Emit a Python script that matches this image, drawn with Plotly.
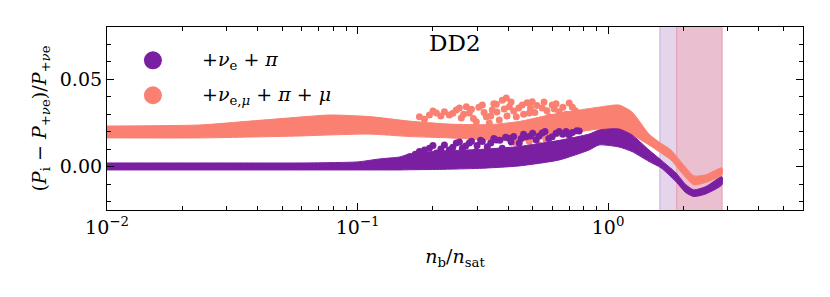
import plotly.graph_objects as go

# ---------------- data ----------------
# dense band of the "+nu_e + pi" case (purple)
nue_x     = [0.01, 0.03, 0.06, 0.1, 0.1224, 0.147, 0.1611, 0.2122, 0.3062, 0.442, 0.6379, 0.84, 0.9207, 1.106, 1.246, 1.457, 1.626, 1.866, 2.046, 2.2, 2.457, 2.846]
nue_lower = [-0.0019, -0.0019, -0.0019, -0.0019, -0.0019, -0.0019, -0.0018, -0.0016, -0.0010, 0.0004, 0.0038, 0.0095, 0.0124, 0.0112, 0.0086, 0.0029, -0.0007, -0.0086, -0.0150, -0.0171, -0.0156, -0.0104]
nue_upper = [0.0021, 0.0021, 0.0021, 0.0027, 0.0044, 0.0055, 0.0072, 0.0089, 0.0098, 0.0115, 0.0150, 0.0186, 0.0209, 0.0215, 0.0181, 0.0095, 0.0038, -0.0036, -0.0104, -0.0133, -0.0114, -0.0058]
# scattered points above the purple band
nue_dots_x = [0.1611, 0.1766, 0.1936, 0.2064, 0.2222, 0.2325, 0.2479, 0.262, 0.2794, 0.2978, 0.3148, 0.3295, 0.3579, 0.3782, 0.4034, 0.442, 0.4713, 0.5165, 0.5458, 0.5982, 0.6379, 0.6994, 0.7667,
              0.17, 0.185, 0.2, 0.215, 0.24, 0.255, 0.27, 0.285, 0.3, 0.31, 0.34, 0.35, 0.37, 0.39, 0.41, 0.42, 0.45, 0.46, 0.49, 0.5, 0.53, 0.56, 0.58, 0.62, 0.66, 0.68, 0.72, 0.75]
nue_dots_y = [0.0057, 0.0086, 0.0105, 0.0078, 0.0124, 0.0095, 0.0135, 0.0105, 0.0135, 0.0086, 0.0143, 0.0114, 0.0152, 0.0105, 0.0162, 0.0135, 0.0171, 0.0152, 0.0192, 0.0171, 0.0200, 0.0181, 0.0204,
              0.0070, 0.0095, 0.0120, 0.0100, 0.0110, 0.0140, 0.0118, 0.0145, 0.0120, 0.0150, 0.0135, 0.0160, 0.0150, 0.0168, 0.0140, 0.0172, 0.0160, 0.0185, 0.0175, 0.0190, 0.0175, 0.0200, 0.0160, 0.0190, 0.0185, 0.0200, 0.0195, 0.0205]

# dense band of the "+nu_e,mu + pi + mu" case (salmon)
all_x     = [0.01, 0.02347, 0.03713, 0.05873, 0.07733, 0.1116, 0.1611, 0.2325, 0.3356, 0.442, 0.582, 0.7667, 0.9207, 1.106, 1.246, 1.457, 1.596, 1.782, 1.971, 2.2, 2.457, 2.846]
all_lower = [0.0164, 0.0164, 0.0169, 0.0175, 0.0181, 0.0186, 0.0172, 0.0164, 0.0152, 0.0146, 0.0164, 0.0198, 0.0215, 0.0209, 0.0181, 0.0124, 0.0086, 0.0038, -0.0036, -0.0104, -0.0090, -0.0047]
all_upper = [0.0232, 0.0238, 0.0260, 0.0283, 0.0295, 0.0286, 0.0260, 0.0243, 0.0240, 0.0258, 0.0295, 0.0323, 0.0340, 0.0352, 0.0312, 0.0186, 0.0141, 0.0095, 0.0021, -0.0053, -0.0047, -0.0007]
# scattered points of the salmon case
all_dots_x = [0.1766, 0.1936, 0.2064, 0.2222, 0.2325, 0.2479, 0.2596, 0.2718, 0.2794, 0.2978, 0.3148, 0.3265, 0.3449, 0.3782, 0.4034, 0.4301, 0.4544, 0.4845, 0.498, 0.531, 0.5458, 0.582, 0.5982, 0.6379, 0.6557, 0.6994, 0.3356, 0.3679, 0.4146, 0.4713, 0.3924, 0.3579, 0.4301, 0.4845, 0.531, 0.5662,
              0.185, 0.2, 0.215, 0.24, 0.255, 0.265, 0.285, 0.29, 0.305, 0.32, 0.34, 0.35, 0.36, 0.385, 0.395, 0.41, 0.42, 0.44, 0.46, 0.475, 0.49, 0.51, 0.52, 0.555, 0.57, 0.61, 0.62, 0.66, 0.68, 0.72, 0.74]
all_dots_y = [0.0285, 0.0295, 0.0306, 0.0314, 0.0295, 0.0323, 0.0278, 0.0342, 0.0306, 0.0257, 0.0352, 0.0285, 0.0323, 0.0380, 0.0342, 0.0285, 0.0352, 0.0306, 0.0371, 0.0249, 0.0335, 0.0285, 0.0352, 0.0314, 0.0257, 0.0363, 0.0249, 0.0266, 0.0228, 0.0238, 0.0392, 0.0357, 0.0133, 0.0143, 0.0124, 0.0152,
              0.0270, 0.0318, 0.0290, 0.0305, 0.0335, 0.0300, 0.0328, 0.0275, 0.0340, 0.0310, 0.0290, 0.0360, 0.0312, 0.0330, 0.0290, 0.0370, 0.0318, 0.0335, 0.0300, 0.0365, 0.0335, 0.0310, 0.0350, 0.0370, 0.0320, 0.0330, 0.0360, 0.0340, 0.0300, 0.0340, 0.0320]

# shaded density intervals
band_purple = [1.61, 1.88]
band_red    = [1.88, 2.85]

# axis ticks / labels
x_tickvals = [0.01, 0.1, 1]
x_ticktext = ["10<sup>\u22122</sup>", "10<sup>\u22121</sup>", "10<sup>0</sup>"]
x_minor = [m * d for d in (0.01, 0.1, 1) for m in range(2, 10) if m * d < 6.0]
y_tickvals = [0.0, 0.05]
y_ticktext = ["0.00", "0.05"]

label_nue = "+<i>\u03bd</i><sub>e</sub> + <i>\u03c0</i>"
label_all = "+<i>\u03bd</i><sub>e,<i>\u03bc</i></sub> + <i>\u03c0</i> + <i>\u03bc</i>"

PURPLE = "#7b1fa2"
SALMON = "#fa8072"
FONT = "DejaVu Serif"

fig = go.Figure()

def vband(x0, x1, fill, edge):
    fig.add_trace(go.Scatter(x=[x0, x1, x1, x0, x0], y=[-1, -1, 1, 1, -1],
                             mode="lines", fill="toself", fillcolor=fill,
                             line=dict(color=edge, width=1.2),
                             hoverinfo="skip", showlegend=False))

vband(band_purple[0], band_purple[1], "#e4d4ec", "#d2b6e0")
vband(band_red[0], band_red[1], "#eabfcf", "#e9a3b6")

def band(xs, lo, up, color):
    fig.add_trace(go.Scatter(x=xs + xs[::-1], y=up + lo[::-1], mode="lines",
                             fill="toself", fillcolor=color,
                             line=dict(color=color, width=1, shape="spline", smoothing=0.6),
                             hoverinfo="skip", showlegend=False))

band(all_x, all_lower, all_upper, SALMON)
fig.add_trace(go.Scatter(x=all_dots_x, y=all_dots_y, mode="markers",
                         marker=dict(color=SALMON, size=7), showlegend=False))
band(nue_x, nue_lower, nue_upper, PURPLE)
fig.add_trace(go.Scatter(x=nue_dots_x, y=nue_dots_y, mode="markers",
                         marker=dict(color=PURPLE, size=7), showlegend=False))

# legend drawn by hand (matplotlib-like)
for yy, col, txt in [(0.818, PURPLE, label_nue), (0.627, SALMON, label_all)]:
    fig.add_shape(type="circle", xref="paper", yref="paper",
                  xsizemode="pixel", ysizemode="pixel",
                  xanchor=0.066, yanchor=yy, x0=-9, x1=9, y0=-9, y1=9,
                  fillcolor=col, line=dict(width=0))
    fig.add_annotation(x=0.1336, y=yy, xref="paper", yref="paper", text=txt,
                       showarrow=False, xanchor="left", yanchor="middle",
                       font=dict(family=FONT, size=19, color="black"))

fig.add_annotation(x=0.5, y=0.91, xref="paper", yref="paper", text="DD2",
                   showarrow=False, xanchor="center", yanchor="middle",
                   font=dict(family=FONT, size=23, color="black"))

axis_common = dict(showline=True, linecolor="black", linewidth=1.2, mirror="allticks",
                   ticks="inside", ticklen=7, tickwidth=1, tickcolor="black",
                   showgrid=False, zeroline=False,
                   tickfont=dict(family=FONT, size=19, color="black"))

fig.update_xaxes(type="log", range=[-2, 0.778], tickvals=x_tickvals, ticktext=x_ticktext,
                 minor=dict(tickvals=x_minor, ticks="inside", ticklen=4, tickcolor="black", showgrid=False),
                 title=dict(text="<i>n</i><sub>b</sub>/<i>n</i><sub>sat</sub>", standoff=12,
                            font=dict(family=FONT, size=19, color="black")),
                 **axis_common)
fig.update_yaxes(range=[-0.0248, 0.0798], tickvals=y_tickvals, ticktext=y_ticktext,
                 minor=dict(dtick=0.01, tick0=0, ticks="inside", ticklen=4, tickcolor="black", showgrid=False),
                 title=dict(text="(<i>P</i><sub>i</sub> \u2212 <i>P</i><sub>+<i>\u03bd</i>e</sub>)/<i>P</i><sub>+<i>\u03bd</i>e</sub>",
                            standoff=8, font=dict(family=FONT, size=19, color="black")),
                 **axis_common)

fig.update_layout(width=830, height=297, margin=dict(l=107, r=27, t=27, b=87, autoexpand=False),
                  plot_bgcolor="white", paper_bgcolor="white", showlegend=False)

fig.write_html("out.html", config={"displayModeBar": False},
               post_script="document.body.style.margin='0';document.body.style.overflow='hidden';")
